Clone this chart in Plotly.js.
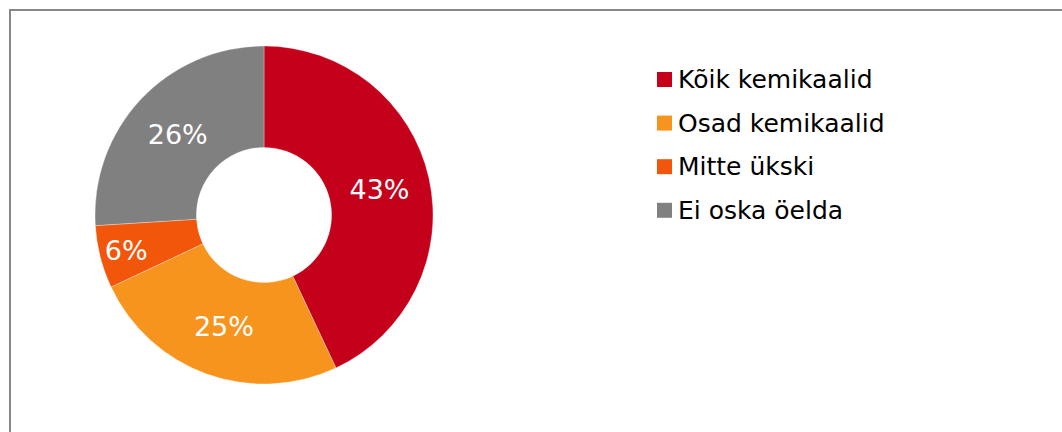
<!DOCTYPE html>
<html>
<head>
<meta charset="utf-8">
<script src="https://cdn.plot.ly/plotly-3.0.1.min.js"></script>
<style>
html,body{margin:0;padding:0;background:#fff;}
#chart{width:1062px;height:432px;}
</style>
</head>
<body>
<div id="chart"></div>
<script>
const labels = ["Kõik kemikaalid", "Osad kemikaalid", "Mitte ükski", "Ei oska öelda"];
const values = [43, 25, 6, 26];
const colors = ["#C4001A", "#F7941E", "#F1560A", "#808080"];

const FONT = "DejaVu Sans, Verdana, sans-serif";

const trace = {
  type: "pie",
  labels: labels,
  values: values,
  sort: false,
  direction: "clockwise",
  rotation: 0,
  hole: 0.4,
  marker: {colors: colors, line: {width: 0.6, color: "rgba(255,255,255,0.5)"}},
  texttemplate: "%{value}%",
  textposition: "inside",
  insidetextorientation: "horizontal",
  textfont: {family: FONT, size: 27, color: "#ffffff"},
  domain: {x: [95/1062, 433/1062], y: [48/432, 386/432]},
  showlegend: false,
  hoverinfo: "label+percent"
};

// legend drawn as annotations + squares (layout only)
const legX = 676, legY0 = 79.5, legDy = 43.6;
const annotations = labels.map((l, i) => ({
  xref: "paper", yref: "paper",
  x: legX/1062, y: 1 - (legY0 + i*legDy)/432,
  xanchor: "left", yanchor: "middle",
  text: l, showarrow: false,
  font: {family: FONT, size: 25, color: "#000000"}
}));
const shapes = labels.map((l, i) => ({
  type: "rect", xref: "paper", yref: "paper",
  x0: 657/1062, x1: 672/1062,
  y0: 1 - (legY0 + i*legDy - 7.5)/432, y1: 1 - (legY0 + i*legDy + 7.5)/432,
  fillcolor: colors[i], line: {width: 0}
}));
shapes.push({
  type: "rect", xref: "paper", yref: "paper",
  x0: 10/1062, x1: 1.05, y0: -0.05, y1: 1 - 10/432,
  line: {color: "#888888", width: 2}, fillcolor: "rgba(0,0,0,0)"
});

const layout = {
  width: 1062, height: 432,
  margin: {l: 0, r: 0, t: 0, b: 0},
  paper_bgcolor: "#ffffff",
  showlegend: false,
  uniformtext: {mode: "show", minsize: 27},
  annotations: annotations,
  shapes: shapes,
  font: {family: FONT}
};

Plotly.newPlot("chart", [trace], layout, {displayModeBar: false, staticPlot: true});
</script>
</body>
</html>
